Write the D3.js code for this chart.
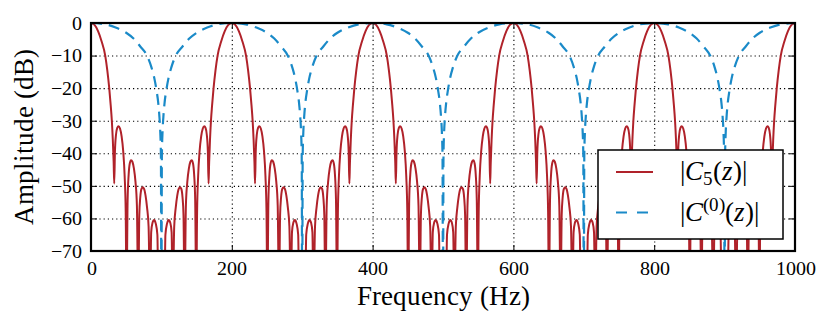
<!DOCTYPE html>
<html>
<head>
<meta charset="utf-8">
<script src="https://cdn.jsdelivr.net/npm/d3@7"></script>
<style>
  @font-face { font-family: 'PlotSerif'; src: local('Liberation Serif'), local('LiberationSerif'), local('Times New Roman'); font-style: normal; }
  @font-face { font-family: 'PlotSerif'; src: local('Liberation Serif Italic'), local('LiberationSerif-Italic'); font-style: italic; }
  svg text, svg tspan { font-family: 'PlotSerif', 'Liberation Serif', 'Times New Roman', serif !important; }
</style>
</head>
<body style="margin:0;background:#fff">
<div id="chart"></div>
<script>
const freqTicks = [0, 200, 400, 600, 800, 1000];
const ampTicks = [0, -10, -20, -30, -40, -50, -60, -70];

// |C5(z)| as [Hz, dB]. nulls sit below -70 dB and get clipped
const c5 = [
  [0,0],[5,-0.6],[10,-2.5],[15,-5.6],[20.2,-10],[23.2,-14.6],[25.9,-20],[28,-25.3],[29.6,-30],[31,-36],[32.2,-43],[33,-49.3],
  [34,-39.5],[35.5,-34.3],[37.3,-32.2],[39.1,-31.7],[41.2,-32.4],[43.5,-34.8],[45.8,-39.5],[47.8,-47],[49.3,-58],[50.5,-85],
  [52,-54.5],[53.5,-46.5],[55,-43.2],[56.9,-42.1],[58.8,-42.6],[61,-44.7],[63.2,-48.8],[65.2,-56],[67.1,-85],
  [68.6,-59],[70,-53.5],[71.6,-51],[73.4,-50.4],[75.4,-50.9],[77.5,-53],[79.6,-56.6],[81.8,-62.5],[83.9,-85],
  [85.5,-64.2],[87.3,-61.4],[89.6,-60.5],[92,-61.6],[94.3,-65],[95.8,-85],[100,-85],[104.2,-85],
  [105.7,-65],[108,-61.6],[110.4,-60.5],[112.7,-61.4],[114.5,-64.2],[116.1,-85],
  [118.2,-62.5],[120.4,-56.6],[122.5,-53],[124.6,-50.9],[126.6,-50.4],[128.4,-51],[130,-53.5],[131.4,-59],[132.9,-85],
  [134.8,-56],[136.8,-48.8],[139,-44.7],[141.2,-42.6],[143.1,-42.1],[145,-43.2],[146.5,-46.5],[148,-54.5],[149.5,-85],
  [150.7,-58],[152.2,-47],[154.2,-39.5],[156.5,-34.8],[158.8,-32.4],[160.9,-31.7],[162.7,-32.2],[164.5,-34.3],[166,-39.5],[167,-49.3],
  [167.8,-43],[169,-36],[170.4,-30],[172,-25.3],[174.1,-20],[176.8,-14.6],[179.8,-10],[185,-5.6],[190,-2.5],[195,-0.6],[200,0],

  [205,-0.6],[210,-2.5],[215,-5.6],[220.2,-10],[223.2,-14.6],[225.9,-20],[228,-25.3],[229.6,-30],[231,-36],[232.2,-43],[233,-49.3],
  [234,-39.5],[235.5,-34.3],[237.3,-32.2],[239.1,-31.7],[241.2,-32.4],[243.5,-34.8],[245.8,-39.5],[247.8,-47],[249.3,-58],[250.5,-85],
  [252,-54.5],[253.5,-46.5],[255,-43.2],[256.9,-42.1],[258.8,-42.6],[261,-44.7],[263.2,-48.8],[265.2,-56],[267.1,-85],
  [268.6,-59],[270,-53.5],[271.6,-51],[273.4,-50.4],[275.4,-50.9],[277.5,-53],[279.6,-56.6],[281.8,-62.5],[283.9,-85],
  [285.5,-64.2],[287.3,-61.4],[289.6,-60.5],[292,-61.6],[294.3,-65],[295.8,-85],[300,-85],[304.2,-85],
  [305.7,-65],[308,-61.6],[310.4,-60.5],[312.7,-61.4],[314.5,-64.2],[316.1,-85],
  [318.2,-62.5],[320.4,-56.6],[322.5,-53],[324.6,-50.9],[326.6,-50.4],[328.4,-51],[330,-53.5],[331.4,-59],[332.9,-85],
  [334.8,-56],[336.8,-48.8],[339,-44.7],[341.2,-42.6],[343.1,-42.1],[345,-43.2],[346.5,-46.5],[348,-54.5],[349.5,-85],
  [350.7,-58],[352.2,-47],[354.2,-39.5],[356.5,-34.8],[358.8,-32.4],[360.9,-31.7],[362.7,-32.2],[364.5,-34.3],[366,-39.5],[367,-49.3],
  [367.8,-43],[369,-36],[370.4,-30],[372,-25.3],[374.1,-20],[376.8,-14.6],[379.8,-10],[385,-5.6],[390,-2.5],[395,-0.6],[400,0],

  [405,-0.6],[410,-2.5],[415,-5.6],[420.2,-10],[423.2,-14.6],[425.9,-20],[428,-25.3],[429.6,-30],[431,-36],[432.2,-43],[433,-49.3],
  [434,-39.5],[435.5,-34.3],[437.3,-32.2],[439.1,-31.7],[441.2,-32.4],[443.5,-34.8],[445.8,-39.5],[447.8,-47],[449.3,-58],[450.5,-85],
  [452,-54.5],[453.5,-46.5],[455,-43.2],[456.9,-42.1],[458.8,-42.6],[461,-44.7],[463.2,-48.8],[465.2,-56],[467.1,-85],
  [468.6,-59],[470,-53.5],[471.6,-51],[473.4,-50.4],[475.4,-50.9],[477.5,-53],[479.6,-56.6],[481.8,-62.5],[483.9,-85],
  [485.5,-64.2],[487.3,-61.4],[489.6,-60.5],[492,-61.6],[494.3,-65],[495.8,-85],[500,-85],[504.2,-85],
  [505.7,-65],[508,-61.6],[510.4,-60.5],[512.7,-61.4],[514.5,-64.2],[516.1,-85],
  [518.2,-62.5],[520.4,-56.6],[522.5,-53],[524.6,-50.9],[526.6,-50.4],[528.4,-51],[530,-53.5],[531.4,-59],[532.9,-85],
  [534.8,-56],[536.8,-48.8],[539,-44.7],[541.2,-42.6],[543.1,-42.1],[545,-43.2],[546.5,-46.5],[548,-54.5],[549.5,-85],
  [550.7,-58],[552.2,-47],[554.2,-39.5],[556.5,-34.8],[558.8,-32.4],[560.9,-31.7],[562.7,-32.2],[564.5,-34.3],[566,-39.5],[567,-49.3],
  [567.8,-43],[569,-36],[570.4,-30],[572,-25.3],[574.1,-20],[576.8,-14.6],[579.8,-10],[585,-5.6],[590,-2.5],[595,-0.6],[600,0],

  [605,-0.6],[610,-2.5],[615,-5.6],[620.2,-10],[623.2,-14.6],[625.9,-20],[628,-25.3],[629.6,-30],[631,-36],[632.2,-43],[633,-49.3],
  [634,-39.5],[635.5,-34.3],[637.3,-32.2],[639.1,-31.7],[641.2,-32.4],[643.5,-34.8],[645.8,-39.5],[647.8,-47],[649.3,-58],[650.5,-85],
  [652,-54.5],[653.5,-46.5],[655,-43.2],[656.9,-42.1],[658.8,-42.6],[661,-44.7],[663.2,-48.8],[665.2,-56],[667.1,-85],
  [668.6,-59],[670,-53.5],[671.6,-51],[673.4,-50.4],[675.4,-50.9],[677.5,-53],[679.6,-56.6],[681.8,-62.5],[683.9,-85],
  [685.5,-64.2],[687.3,-61.4],[689.6,-60.5],[692,-61.6],[694.3,-65],[695.8,-85],[700,-85],[704.2,-85],
  [705.7,-65],[708,-61.6],[710.4,-60.5],[712.7,-61.4],[714.5,-64.2],[716.1,-85],
  [718.2,-62.5],[720.4,-56.6],[722.5,-53],[724.6,-50.9],[726.6,-50.4],[728.4,-51],[730,-53.5],[731.4,-59],[732.9,-85],
  [734.8,-56],[736.8,-48.8],[739,-44.7],[741.2,-42.6],[743.1,-42.1],[745,-43.2],[746.5,-46.5],[748,-54.5],[749.5,-85],
  [750.7,-58],[752.2,-47],[754.2,-39.5],[756.5,-34.8],[758.8,-32.4],[760.9,-31.7],[762.7,-32.2],[764.5,-34.3],[766,-39.5],[767,-49.3],
  [767.8,-43],[769,-36],[770.4,-30],[772,-25.3],[774.1,-20],[776.8,-14.6],[779.8,-10],[785,-5.6],[790,-2.5],[795,-0.6],[800,0],

  [805,-0.6],[810,-2.5],[815,-5.6],[820.2,-10],[823.2,-14.6],[825.9,-20],[828,-25.3],[829.6,-30],[831,-36],[832.2,-43],[833,-49.3],
  [834,-39.5],[835.5,-34.3],[837.3,-32.2],[839.1,-31.7],[841.2,-32.4],[843.5,-34.8],[845.8,-39.5],[847.8,-47],[849.3,-58],[850.5,-85],
  [852,-54.5],[853.5,-46.5],[855,-43.2],[856.9,-42.1],[858.8,-42.6],[861,-44.7],[863.2,-48.8],[865.2,-56],[867.1,-85],
  [868.6,-59],[870,-53.5],[871.6,-51],[873.4,-50.4],[875.4,-50.9],[877.5,-53],[879.6,-56.6],[881.8,-62.5],[883.9,-85],
  [885.5,-64.2],[887.3,-61.4],[889.6,-60.5],[892,-61.6],[894.3,-65],[895.8,-85],[900,-85],[904.2,-85],
  [905.7,-65],[908,-61.6],[910.4,-60.5],[912.7,-61.4],[914.5,-64.2],[916.1,-85],
  [918.2,-62.5],[920.4,-56.6],[922.5,-53],[924.6,-50.9],[926.6,-50.4],[928.4,-51],[930,-53.5],[931.4,-59],[932.9,-85],
  [934.8,-56],[936.8,-48.8],[939,-44.7],[941.2,-42.6],[943.1,-42.1],[945,-43.2],[946.5,-46.5],[948,-54.5],[949.5,-85],
  [950.7,-58],[952.2,-47],[954.2,-39.5],[956.5,-34.8],[958.8,-32.4],[960.9,-31.7],[962.7,-32.2],[964.5,-34.3],[966,-39.5],[967,-49.3],
  [967.8,-43],[969,-36],[970.4,-30],[972,-25.3],[974.1,-20],[976.8,-14.6],[979.8,-10],[985,-5.6],[990,-2.5],[995,-0.6],[1000,0]
];

// |C^(0)(z)|, [Hz, dB]
const c0 = [
  [0,0],[20,-0.4],[35,-1.4],[50,-3],[60,-4.7],[70,-7.2],[80,-10.2],[86,-13.7],[90,-17],[93,-20.6],[95.5,-24.5],[97.2,-28.8],[98.4,-33.5],[99.3,-40.5],
  [100,-90],[100.7,-40.5],[101.6,-33.5],[102.8,-28.8],[104.5,-24.5],[107,-20.6],[110,-17],[114,-13.7],[120,-10.2],[130,-7.2],[140,-4.7],[150,-3],[165,-1.4],[180,-0.4],[200,0],
  [220,-0.4],[235,-1.4],[250,-3],[260,-4.7],[270,-7.2],[280,-10.2],[286,-13.7],[290,-17],[293,-20.6],[295.5,-24.5],[297.2,-28.8],[298.4,-33.5],[299.3,-40.5],
  [300,-90],[300.7,-40.5],[301.6,-33.5],[302.8,-28.8],[304.5,-24.5],[307,-20.6],[310,-17],[314,-13.7],[320,-10.2],[330,-7.2],[340,-4.7],[350,-3],[365,-1.4],[380,-0.4],[400,0],
  [420,-0.4],[435,-1.4],[450,-3],[460,-4.7],[470,-7.2],[480,-10.2],[486,-13.7],[490,-17],[493,-20.6],[495.5,-24.5],[497.2,-28.8],[498.4,-33.5],[499.3,-40.5],
  [500,-90],[500.7,-40.5],[501.6,-33.5],[502.8,-28.8],[504.5,-24.5],[507,-20.6],[510,-17],[514,-13.7],[520,-10.2],[530,-7.2],[540,-4.7],[550,-3],[565,-1.4],[580,-0.4],[600,0],
  [620,-0.4],[635,-1.4],[650,-3],[660,-4.7],[670,-7.2],[680,-10.2],[686,-13.7],[690,-17],[693,-20.6],[695.5,-24.5],[697.2,-28.8],[698.4,-33.5],[699.3,-40.5],
  [700,-90],[700.7,-40.5],[701.6,-33.5],[702.8,-28.8],[704.5,-24.5],[707,-20.6],[710,-17],[714,-13.7],[720,-10.2],[730,-7.2],[740,-4.7],[750,-3],[765,-1.4],[780,-0.4],[800,0],
  [820,-0.4],[835,-1.4],[850,-3],[860,-4.7],[870,-7.2],[880,-10.2],[886,-13.7],[890,-17],[893,-20.6],[895.5,-24.5],[897.2,-28.8],[898.4,-33.5],[899.3,-40.5],
  [900,-90],[900.7,-40.5],[901.6,-33.5],[902.8,-28.8],[904.5,-24.5],[907,-20.6],[910,-17],[914,-13.7],[920,-10.2],[930,-7.2],[940,-4.7],[950,-3],[965,-1.4],[980,-0.4],[1000,0]
];

const width = 830;
const height = 325;
const plotL = 91, plotR = 795, plotT = 23, plotB = 251;
const red = '#b0222a';
const blue = '#1a8ac8';
const serif = 'Liberation Serif';

const svg = d3.select('#chart')
  .append('svg')
  .attr('width', width)
  .attr('height', height)
  .style('display', 'block')
  .style('font-family', serif);

const x = d3.scaleLinear().domain([0, 1000]).range([plotL, plotR]);
const y = d3.scaleLinear().domain([-70, 0]).range([plotB, plotT]);

svg.append('defs').append('clipPath').attr('id', 'plotclip')
  .append('rect')
  .attr('x', plotL).attr('y', plotT)
  .attr('width', plotR - plotL).attr('height', plotB - plotT);

// dotted grid
const grid = svg.append('g');
grid.append('g')
  .attr('transform', 'translate(0,' + plotB + ')')
  .call(d3.axisBottom(x).tickValues(freqTicks.slice(1, -1)).tickSize(-(plotB - plotT)).tickFormat(''));
grid.append('g')
  .attr('transform', 'translate(' + plotL + ',0)')
  .call(d3.axisLeft(y).tickValues(ampTicks.slice(1, -1)).tickSize(-(plotR - plotL)).tickFormat(''));
grid.selectAll('.domain').remove();
grid.selectAll('line')
  .attr('stroke', '#000')
  .attr('stroke-width', 1.1)
  .attr('stroke-dasharray', '1.2,3');

const line = d3.line()
  .x(d => x(d[0]))
  .y(d => y(d[1]))
  .curve(d3.curveMonotoneX);

const plot = svg.append('g').attr('clip-path', 'url(#plotclip)');
plot.append('path')
  .datum(c5)
  .attr('fill', 'none')
  .attr('stroke', red)
  .attr('stroke-width', 2)
  .attr('d', line);
plot.append('path')
  .datum(c0)
  .attr('fill', 'none')
  .attr('stroke', blue)
  .attr('stroke-width', 2.2)
  .attr('stroke-dasharray', '11,7')
  .attr('d', line);

// axes, ticks pointing inward on all four sides
const fmt = d3.format('d');
const xAxis = svg.append('g')
  .attr('transform', 'translate(0,' + plotB + ')')
  .call(d3.axisBottom(x).tickValues(freqTicks).tickSize(-6).tickPadding(10).tickFormat(fmt));
const yAxis = svg.append('g')
  .attr('transform', 'translate(' + plotL + ',0)')
  .call(d3.axisLeft(y).tickValues(ampTicks).tickSize(-6).tickPadding(9).tickFormat(fmt));
const xTop = svg.append('g')
  .attr('transform', 'translate(0,' + plotT + ')')
  .call(d3.axisTop(x).tickValues(freqTicks).tickSize(-6).tickFormat(''));
const yRight = svg.append('g')
  .attr('transform', 'translate(' + plotR + ',0)')
  .call(d3.axisRight(y).tickValues(ampTicks).tickSize(-6).tickFormat(''));

[xAxis, yAxis, xTop, yRight].forEach(a => {
  a.attr('font-family', null).attr('font-size', 20);
  a.select('.domain').remove();
  a.selectAll('line').attr('stroke', '#000').attr('stroke-width', 1);
  a.selectAll('text').attr('fill', '#000').style('font-family', serif);
});

svg.append('rect')
  .attr('x', plotL).attr('y', plotT)
  .attr('width', plotR - plotL).attr('height', plotB - plotT)
  .attr('fill', 'none')
  .attr('stroke', '#000')
  .attr('stroke-width', 2.2);

svg.append('text')
  .attr('x', (plotL + plotR) / 2)
  .attr('y', 305)
  .attr('text-anchor', 'middle')
  .style('font-family', serif)
  .attr('font-size', 27)
  .text('Frequency (Hz)');

svg.append('text')
  .attr('transform', 'translate(33,' + ((plotT + plotB) / 2) + ') rotate(-90)')
  .attr('text-anchor', 'middle')
  .style('font-family', serif)
  .attr('font-size', 27)
  .text('Amplitude (dB)');

// legend
const legend = svg.append('g');
legend.append('rect')
  .attr('x', 598).attr('y', 150)
  .attr('width', 185).attr('height', 89)
  .attr('fill', '#fff')
  .attr('stroke', '#000')
  .attr('stroke-width', 1.5);

legend.append('line')
  .attr('x1', 616).attr('x2', 653).attr('y1', 172).attr('y2', 172)
  .attr('stroke', red).attr('stroke-width', 2);
legend.append('line')
  .attr('x1', 616).attr('x2', 653).attr('y1', 212.5).attr('y2', 212.5)
  .attr('stroke', blue).attr('stroke-width', 2.2)
  .attr('stroke-dasharray', '11,10');

function mathLabel(yBase, parts) {
  const t = legend.append('text')
    .attr('x', 680).attr('y', yBase)
    .style('font-family', serif)
    .attr('font-size', 27);
  parts.forEach(p => {
    const s = t.append('tspan').text(p.t);
    if (p.it) s.attr('font-style', 'italic');
    if (p.size) s.attr('font-size', p.size);
    if (p.dy) s.attr('dy', p.dy);
  });
}

mathLabel(180, [
  { t: '|' }, { t: 'C', it: true }, { t: '5', size: 19, dy: 5 },
  { t: '(', dy: -5 }, { t: 'z', it: true }, { t: ')|' }
]);
mathLabel(221, [
  { t: '|' }, { t: 'C', it: true }, { t: '(0)', size: 19, dy: -10 },
  { t: '(', dy: 10 }, { t: 'z', it: true }, { t: ')|' }
]);
</script>
</body>
</html>
